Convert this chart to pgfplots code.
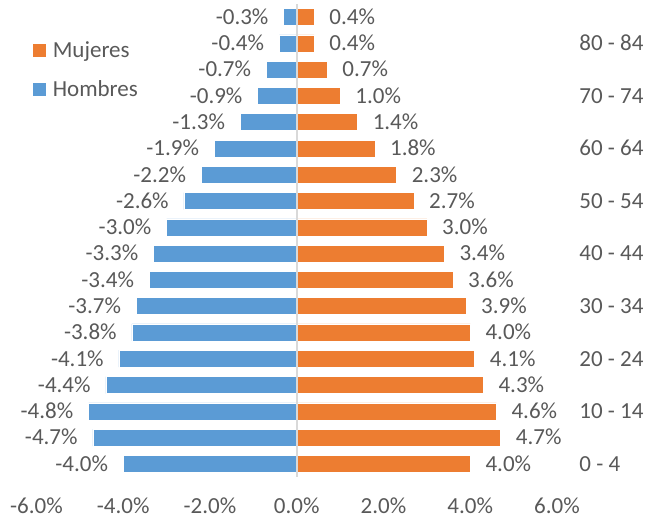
\documentclass[border=0pt]{standalone}
\usepackage{pgfplots}
\pgfplotsset{compat=1.18}
\usetikzlibrary{calc}
\usepackage{fontspec}
\setmainfont{Carlito}
\definecolor{hblue}{HTML}{5B9BD5}
\definecolor{morange}{HTML}{ED7D31}
\definecolor{txt}{HTML}{595959}
\definecolor{zline}{HTML}{D9D9D9}
\begin{document}
\begin{tikzpicture}[font=\fontsize{23}{27}\selectfont]
\begin{axis}[
    name=ax,
    scale only axis, width=520.5pt, height=473pt,
    xbar, bar width=17pt, bar shift=0pt,
    xmin=-6, xmax=6, ymin=-0.5, ymax=17.5,
    clip=false,
    axis line style={draw=none},
    tick style={draw=none},
    xtick={-6,-4,...,6},
    xticklabels={-6.0\%,-4.0\%,-2.0\%,0.0\%,2.0\%,4.0\%,6.0\%},
    xticklabel style={anchor=base, inner sep=0pt, yshift=-37pt, text=txt},
    ytick={0,2,...,16},
    yticklabels={0 - 4,10 - 14,20 - 24,30 - 34,40 - 44,50 - 54,60 - 64,70 - 74,80 - 84},
    yticklabel pos=right,
    yticklabel style={anchor=base west, inner sep=0pt, xshift=18pt, yshift=-7.3pt, text=txt},
    point meta=x,
    nodes near coords={\pgfmathprintnumber[fixed,fixed zerofill,precision=1,assume math mode=true]{\pgfplotspointmeta}\%},
    legend style={at={(-0.0067,0.92)}, anchor=north west, draw=none, fill=none,
        inner sep=0pt, row sep=21pt, text=txt,
        nodes={inner xsep=7pt, inner ysep=0pt}},
    legend cell align=left,
]
% Mujeres
\addplot[fill=morange, draw=white, line width=0.6pt,
    every node near coord/.append style={anchor=base west, inner sep=0pt, xshift=15pt, yshift=-7.3pt, text=txt},
    legend image code/.code={\fill[morange] (0pt,-6pt) rectangle (12pt,6pt);}]
coordinates {
    (4.0,0) (4.7,1) (4.6,2) (4.3,3) (4.1,4) (4.0,5) (3.9,6) (3.6,7) (3.4,8)
    (3.0,9) (2.7,10) (2.3,11) (1.8,12) (1.4,13) (1.0,14) (0.7,15) (0.4,16) (0.4,17)
};
\addlegendentry{Mujeres}
% Hombres
\addplot[fill=hblue, draw=white, line width=0.6pt,
    every node near coord/.append style={anchor=base east, inner sep=0pt, xshift=-15pt, yshift=-7.3pt, text=txt},
    legend image code/.code={\fill[hblue] (0pt,-6pt) rectangle (12pt,6pt);}]
coordinates {
    (-4.0,0) (-4.7,1) (-4.8,2) (-4.4,3) (-4.1,4) (-3.8,5) (-3.7,6) (-3.4,7) (-3.3,8)
    (-3.0,9) (-2.6,10) (-2.2,11) (-1.9,12) (-1.3,13) (-0.9,14) (-0.7,15) (-0.4,16) (-0.3,17)
};
\addlegendentry{Hombres}
% eje vertical en cero
\draw[zline, line width=2pt] (axis cs:0,-0.5) -- (axis cs:0,17.5);
\end{axis}
\pgfresetboundingbox
\useasboundingbox ($(ax.south west)+(-36.5pt,-42pt)$) rectangle +(645pt,519pt);
\end{tikzpicture}
\end{document}
